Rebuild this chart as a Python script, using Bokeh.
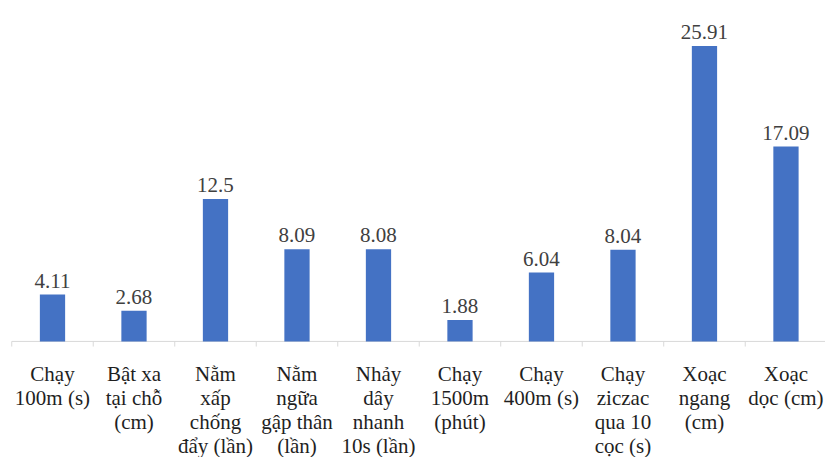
from bokeh.plotting import figure
from bokeh.models import Range1d, ColumnDataSource
from bokeh.embed import file_html
from bokeh.resources import INLINE
from bokeh.core.properties import value

# ---- data ----
categories = [
    "Chạy\n100m (s)",
    "Bật xa\ntại chỗ\n(cm)",
    "Nằm\nxấp\nchống\nđẩy (lần)",
    "Nằm\nngữa\ngập thân\n(lần)",
    "Nhảy\ndây\nnhanh\n10s (lần)",
    "Chạy\n1500m\n(phút)",
    "Chạy\n400m (s)",
    "Chạy\nziczac\nqua 10\ncọc (s)",
    "Xoạc\nngang\n(cm)",
    "Xoạc\ndọc (cm)",
]
values = [4.11, 2.68, 12.5, 8.09, 8.08, 1.88, 6.04, 8.04, 25.91, 17.09]
value_labels = ["4.11", "2.68", "12.5", "8.09", "8.08", "1.88", "6.04", "8.04", "25.91", "17.09"]

n = len(categories)
xs = list(range(n))
FONT = value("Times New Roman")

W, H = 825, 457
p = figure(width=W, height=H, output_backend="svg", toolbar_location=None,
           min_border=0, x_range=Range1d(-0.638, 9.485), y_range=Range1d(-10.18, 29.9))
p.outline_line_color = None
p.xaxis.visible = False
p.yaxis.visible = False
p.xgrid.visible = False
p.ygrid.visible = False
p.background_fill_color = "white"
p.border_fill_color = "white"

# baseline axis and category separators
p.segment(x0=[-0.5], y0=[0], x1=[n - 0.5], y1=[0], line_color="#d9d9d9", line_width=1)
bounds = [i - 0.5 for i in range(n + 1)]
p.segment(x0=bounds, y0=[0] * len(bounds), x1=bounds, y1=[-0.45] * len(bounds),
          line_color="#d9d9d9", line_width=1)

src = ColumnDataSource(dict(x=xs, top=values, lab=value_labels))
p.vbar(x="x", top="top", bottom=0, width=0.31, source=src, fill_color="#4472C4", line_color=None)

p.text(x="x", y="top", text="lab", source=src, text_align="center", text_baseline="alphabetic",
       y_offset=-14, text_font=FONT, text_font_size="21px", text_color="#404040")

# category labels, one row per line
split = [c.split("\n") for c in categories]
maxl = max(len(s) for s in split)
for k in range(maxl):
    lx, lt = [], []
    for i, s in enumerate(split):
        if k < len(s):
            lx.append(xs[i])
            lt.append(s[k])
    p.text(x=lx, y=[0] * len(lx), text=lt, text_align="center", text_baseline="alphabetic",
           y_offset=33 + 24 * k, text_font=FONT, text_font_size="21px",
           text_color="#1f1f1f")

open("out.html", "w").write(file_html(p, INLINE))
